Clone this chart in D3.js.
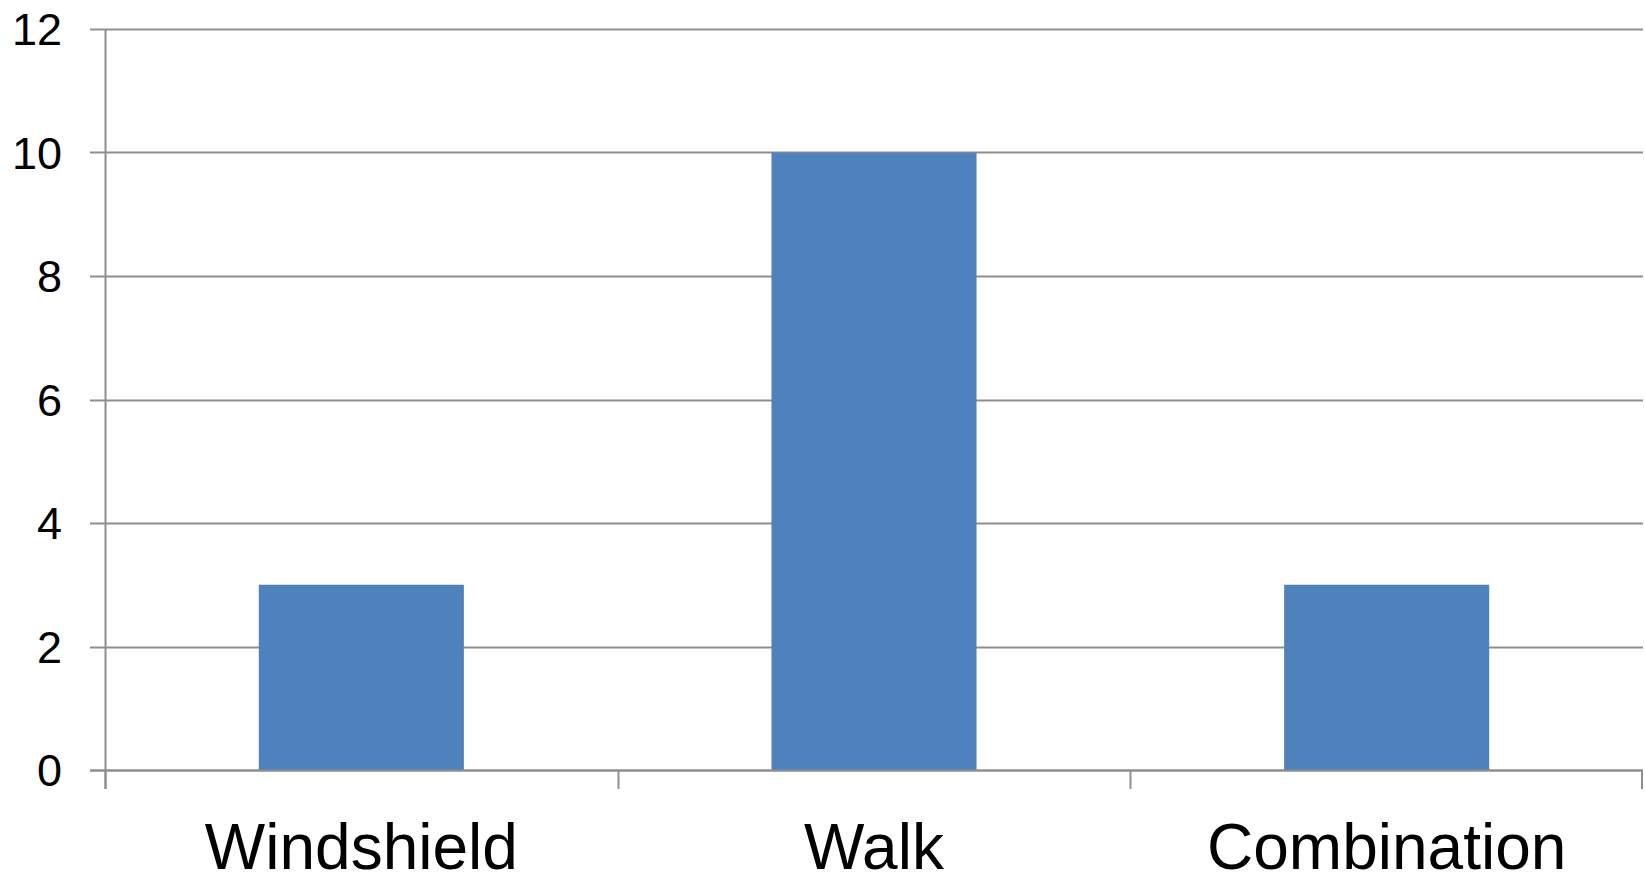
<!DOCTYPE html>
<html>
<head>
<meta charset="utf-8">
<script src="https://cdn.jsdelivr.net/npm/d3@7"></script>
<style>
html,body{margin:0;padding:0;background:#fff;}
svg{display:block;}
text{font-family:"Liberation Sans",Arial,sans-serif;fill:#000;}
</style>
</head>
<body>
<svg id="chart" width="1645" height="875"></svg>
<script>
const categories = ["Windshield", "Walk", "Combination"];
const values = [3, 10, 3];
const yTicks = [0, 2, 4, 6, 8, 10, 12];

(function () {
const svg = d3.select("#chart");
const mLeft = 105, mRight = 1643, mTop = 29, mBottom = 770;
const gridColor = "#8e8e8e";

const x = d3.scaleBand().domain(categories).range([mLeft, mRight]).paddingInner(0.6).paddingOuter(0.3);
const xCat = d3.scaleBand().domain(categories).range([mLeft, mRight]).padding(0);
const y = d3.scaleLinear().domain([0, 12]).range([mBottom, mTop]);

// gridlines + y ticks
svg.append("g").selectAll("line").data(yTicks).join("line")
  .attr("x1", mLeft - 15).attr("x2", mRight)
  .attr("y1", d => Math.round(y(d)) + 0.5).attr("y2", d => Math.round(y(d)) + 0.5)
  .attr("stroke", gridColor).attr("stroke-width", 2);

// y axis line
svg.append("line").attr("x1", mLeft + 0.5).attr("x2", mLeft + 0.5)
  .attr("y1", mTop).attr("y2", mBottom + 19)
  .attr("stroke", gridColor).attr("stroke-width", 2);

// bars
svg.append("g").selectAll("rect").data(categories).join("rect")
  .attr("x", d => x(d)).attr("width", x.bandwidth())
  .attr("y", (d, i) => y(values[i])).attr("height", (d, i) => y(0) - y(values[i]))
  .attr("fill", "#4f81bd");

// baseline above bars
svg.append("line").attr("x1", mLeft - 15).attr("x2", mRight)
  .attr("y1", Math.round(y(0)) + 0.5).attr("y2", Math.round(y(0)) + 0.5)
  .attr("stroke", gridColor).attr("stroke-width", 2);

// x category ticks
const xBounds = categories.map(c => xCat(c)).concat([xCat(categories[categories.length - 1]) + xCat.bandwidth()]);
svg.append("g").selectAll("line").data(xBounds).join("line")
  .attr("x1", d => Math.min(Math.round(d) + 0.5, mRight - 1)).attr("x2", d => Math.min(Math.round(d) + 0.5, mRight - 1))
  .attr("y1", mBottom).attr("y2", mBottom + 19)
  .attr("stroke", gridColor).attr("stroke-width", 2);

// y labels
svg.append("g").selectAll("text").data(yTicks).join("text")
  .attr("x", 62).attr("y", d => y(d))
  .attr("dy", "0.36em")
  .attr("text-anchor", "end")
  .style("font-size", "45px")
  .text(d => d);

// x labels
svg.append("g").selectAll("text").data(categories).join("text")
  .attr("x", d => xCat(d) + xCat.bandwidth() / 2).attr("y", 869)
  .attr("text-anchor", "middle")
  .style("font-size", "64px")
  .text(d => d);
})();
</script>
</body>
</html>
